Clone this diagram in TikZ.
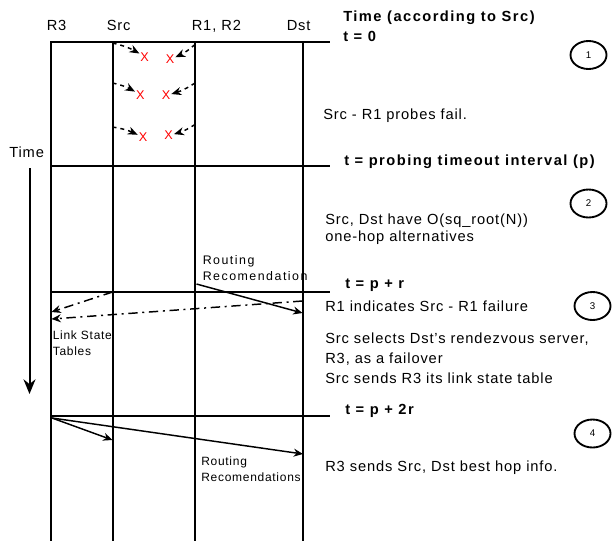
\documentclass[tikz,border=0pt]{standalone}
\usepackage{fontspec}
\setmainfont{Liberation Sans}
\newfontfamily\notefont[LetterSpace=6]{Liberation Sans}
\newfontfamily\stampfont[LetterSpace=10]{Liberation Sans}
\newfontfamily\tagfont[LetterSpace=12]{Liberation Sans}
\usetikzlibrary{arrows.meta, shapes.geometric, positioning}

\tikzset{
    lane/.style={line width=1.5pt, line cap=rect},
    note/.style={anchor=base west, inner sep=0pt, align=left,
        font=\notefont\fontsize{11}{12.75}\selectfont},
    stamp/.style={anchor=base west, inner sep=0pt,
        font=\stampfont\bfseries\fontsize{11}{13}\selectfont},
    tag/.style={anchor=base west, inner sep=0pt, align=left,
        font=\notefont\fontsize{9}{11.3}\selectfont},
    bigtag/.style={tag, font=\tagfont\fontsize{9.3}{11.5}\selectfont},
    fail/.style={text=red, inner sep=0.6pt, font=\fontsize{9.5}{10}\selectfont},
    probe/.style={dashed, line width=1.1pt, -{Stealth[length=7.5pt,width=6pt]}},
    msg/.style={line width=1.1pt, -{Stealth[length=7pt,width=6pt]}},
    lsmsg/.style={msg, dash pattern=on 7pt off 3.5pt on 1.5pt off 3.5pt},
    stepno/.style={draw, ellipse, line width=1.4pt, minimum width=27pt,
        minimum height=21pt, inner sep=0pt, font=\fontsize{7.3}{9}\selectfont}
}

\begin{document}
\begin{tikzpicture}[x=0.75pt, y=-0.75pt]
    \useasboundingbox (0,0) rectangle (616,540);

    % define lanes
    \foreach \lx/\nm in {51/R3, 112.5/Src, 195/R1, 302.5/Dst} {
        \coordinate (\nm_top) at (\lx,41.5);
        \coordinate (\nm_bot) at (\lx,541);
        \draw[lane] (\nm_top) -- (\nm_bot);
    }
    \node[note] (R3_lbl) at (46.5,30) {R3};
    \node[note] (Src_lbl) at (106.5,30) {Src};
    \node[note] (R1_lbl) at (191.5,30) {R1, R2};
    \node[note] (Dst_lbl) at (286.5,30) {Dst};

    % time rows
    \foreach \ty/\nm in {41.5/tzero, 166/tp, 291.5/tpr, 416/tptr} {
        \coordinate (\nm_west) at (51,\ty);
        \coordinate (\nm_east) at (329,\ty);
        \draw[lane] (\nm_west) -- (\nm_east);
    }
    \node[stamp] (head) at (343,21.5) {Time (according to Src)};
    \node[stamp] (tzero_lbl) at (343,41) {t = 0};
    \node[stamp] (tp_lbl) at (344,165) {t = probing timeout interval (p)};
    \node[stamp] (tpr_lbl) at (345,288) {t = p + r};
    \node[stamp] (tptr_lbl) at (345,414.5) {t = p + 2r};

    % time axis
    \node[note] (time_lbl) at (9,157) {Time};
    \coordinate (time_start) at (29.5,168);
    \coordinate (time_end) at (29.5,394);
    \draw[line width=1.5pt, -{Stealth[length=11pt,width=9pt]}] (time_start) -- (time_end);

    % step 1: failed probes
    \node[fail] (xl1) at (144.7,56.7) {X};
    \node[fail] (xr1) at (170,59.5) {X};
    \node[fail] (xl2) at (140.3,94.8) {X};
    \node[fail] (xr2) at (166,95.5) {X};
    \node[fail] (xl3) at (143,137.5) {X};
    \node[fail] (xr3) at (168.7,135.5) {X};
    \coordinate (Src_p1) at (112.5,43);
    \coordinate (R1_p1) at (195,44.5);
    \coordinate (Src_p2) at (112.5,83);
    \coordinate (R1_p2) at (195,83);
    \coordinate (Src_p3) at (112.5,127);
    \coordinate (R1_p3) at (195,124.5);
    \draw[probe] (Src_p1) to[bend left=8] (xl1);
    \draw[probe] (R1_p1) to[bend left=8] (xr1);
    \draw[probe] (Src_p2) to[bend left=8] (xl2);
    \draw[probe] (R1_p2) to[bend left=8] (xr2);
    \draw[probe] (Src_p3) to[bend left=8] (xl3);
    \draw[probe] (R1_p3) to[bend left=8] (xr3);

    \node[stepno] (step1) at (588.5,55) {1};
    \node[note] (fail_txt) at (323,119) {Src - R1 probes fail.};

    % step 2
    \node[stepno] (step2) at (588.5,203.5) {2};
    \node[note] (alt_txt) at (325,241.5) {Src, Dst have O(sq\_root(N))\\one-hop alternatives};

    % step 3: link state tables and recommendation
    \coordinate (Src_ls) at (112.5,292);
    \coordinate (Dst_ls) at (302.5,301);
    \coordinate (R3_ls1) at (51.5,312);
    \coordinate (R3_ls2) at (51.5,319);
    \coordinate (R1_rr) at (196.5,284);
    \coordinate (Dst_rr) at (302.5,313);
    \draw[lsmsg] (Src_ls) -- (R3_ls1);
    \draw[lsmsg] (Dst_ls) -- (R3_ls2);
    \draw[msg] (R1_rr) -- (Dst_rr);
    \node[bigtag] (rr_lbl) at (202.5,280) {Routing\\Recomendation};
    \node[tag] (ls_lbl) at (52.5,355) {Link State\\Tables};

    \node[stepno] (step3) at (592.5,306) {3};
    \node[note] (ind_txt) at (325,311.5) {R1 indicates Src - R1 failure};
    \node[note, font=\notefont\fontsize{11}{15}\selectfont] (sel_txt) at (325,383.5)
        {Src selects Dst’s rendezvous server,\\R3, as a failover\\Src sends R3 its link state table};

    % step 4: best hop info
    \coordinate (R3_rr) at (52,418);
    \coordinate (Src_rr) at (112.5,440);
    \coordinate (Dst_rr4) at (303,454);
    \draw[msg] (R3_rr) -- (Src_rr);
    \draw[msg] (R3_rr) -- (Dst_rr4);
    \node[tag] (rrs_lbl) at (201,481) {Routing\\Recomendations};

    \node[stepno] (step4) at (592.5,433.5) {4};
    \node[note] (best_txt) at (325,471.5) {R3 sends Src, Dst best hop info.};
\end{tikzpicture}
\end{document}
